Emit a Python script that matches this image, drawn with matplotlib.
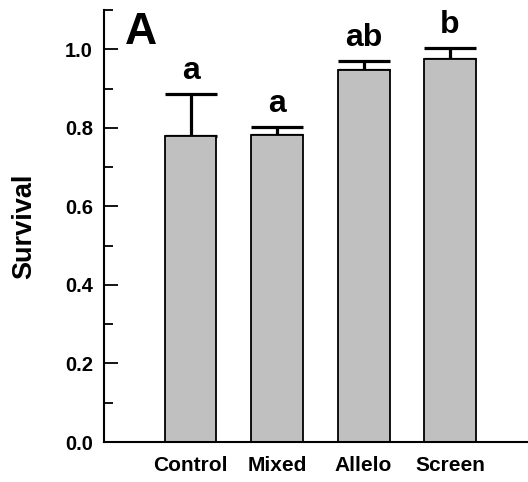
import matplotlib
matplotlib.use("Agg")
import matplotlib.pyplot as plt
from matplotlib.ticker import MultipleLocator
import numpy as np

categories = ['Control', 'Mixed', 'Allelo', 'Screen']
means = [0.779, 0.781, 0.947, 0.974]
errs = [0.108, 0.022, 0.023, 0.029]
letters = ['a', 'a', 'ab', 'b']

plt.rcParams['font.family'] = ['Liberation Sans', 'DejaVu Sans']
plt.rcParams['font.weight'] = 'bold'

fig = plt.figure(figsize=(5.28, 4.82), dpi=100)
ax = fig.add_axes([104/528, 40/482, 424/528, 432/482])

x = np.arange(1, len(categories) + 1)
ax.bar(x, means, width=0.6, color='#c0c0c0', edgecolor='black', linewidth=1.3, zorder=2)
ax.errorbar(x, means, yerr=[np.zeros(len(errs)), errs], fmt='none', ecolor='black',
            elinewidth=2.3, capsize=18.5, capthick=2.3, zorder=1)

for xi, m, e, lab in zip(x, means, errs, letters):
    ax.annotate(lab, (xi, m + e), xytext=(0, 5.5), textcoords='offset points',
                ha='center', va='bottom', fontsize=23, fontweight='bold')

ax.set_xlim(0, 4.9)
ax.set_ylim(0, 1.1)
ax.set_xticks(x)
ax.set_xticklabels(categories, fontsize=15, fontweight='bold')
ax.yaxis.set_major_locator(MultipleLocator(0.2))
ax.yaxis.set_minor_locator(MultipleLocator(0.1))
ax.set_yticks([0.0, 0.2, 0.4, 0.6, 0.8, 1.0])
ax.set_yticklabels(['0.0', '0.2', '0.4', '0.6', '0.8', '1.0'], fontsize=14.5, fontweight='bold')
ax.tick_params(axis='y', which='major', direction='in', length=10, width=1.3, pad=8)
ax.tick_params(axis='y', which='minor', direction='in', length=6.5, width=1.3)
ax.tick_params(axis='x', which='both', length=0, pad=10)

for s in ['top', 'right']:
    ax.spines[s].set_visible(False)
for s in ['left', 'bottom']:
    ax.spines[s].set_linewidth(1.5)

ax.set_ylabel('Survival', fontsize=19.5, fontweight='bold', labelpad=20)
ax.text(0.05, 0.995, 'A', transform=ax.transAxes, ha='left', va='top',
        fontsize=32, fontweight='bold')

fig.savefig('out.png', dpi=100)
